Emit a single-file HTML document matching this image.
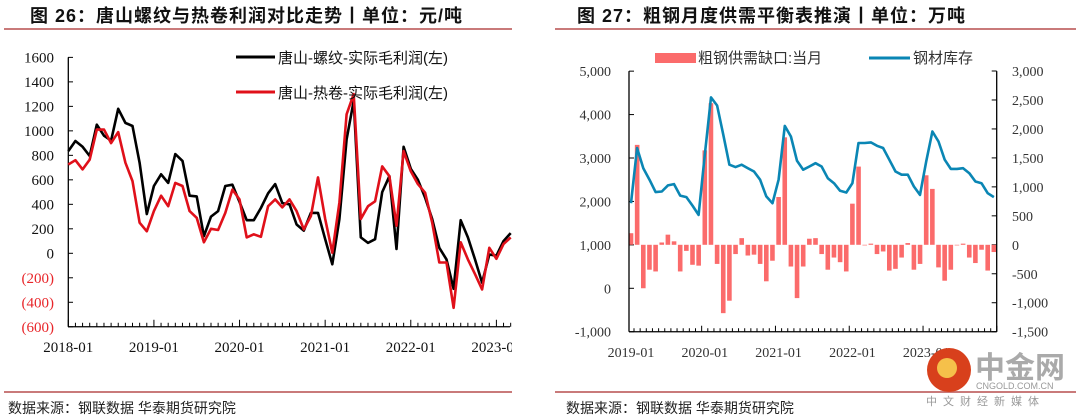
<!DOCTYPE html>
<html><head><meta charset="utf-8"><style>
html,body{margin:0;padding:0;background:#fff;width:1080px;height:419px;overflow:hidden}
svg{display:block}
text{font-family:"Liberation Serif","Noto Serif CJK SC",serif}
.cn{font-family:"Liberation Sans","Noto Sans CJK SC",sans-serif}
</style></head><body>
<svg id="s" width="1080" height="419" xmlns="http://www.w3.org/2000/svg">
<defs><clipPath id="lc"><rect x="0" y="0" width="512" height="419"/></clipPath></defs>
<text class="cn" x="30" y="22" font-size="18" letter-spacing="1" font-weight="bold" fill="#111">图 26：唐山螺纹与热卷利润对比走势丨单位：元/吨</text>
<text class="cn" x="577" y="22" font-size="18" letter-spacing="1" font-weight="bold" fill="#111">图 27：粗钢月度供需平衡表推演丨单位：万吨</text>
<line x1="4" y1="29" x2="512" y2="29" stroke="#c97a7a" stroke-width="2"/>
<line x1="555" y1="29" x2="1076" y2="29" stroke="#c97a7a" stroke-width="2"/>
<line x1="4" y1="392" x2="512" y2="392" stroke="#c97a7a" stroke-width="2"/>
<line x1="555" y1="392" x2="1076" y2="392" stroke="#c97a7a" stroke-width="2"/>
<text class="cn" x="8" y="413" font-size="14" fill="#222">数据来源：钢联数据  华泰期货研究院</text>
<text class="cn" x="566" y="413" font-size="14" fill="#222">数据来源：钢联数据  华泰期货研究院</text>
<g id="L" clip-path="url(#lc)"></g><g id="R"></g>
<g>
<circle cx="949" cy="370" r="22" fill="#d8401c"/>
<circle cx="947" cy="368" r="10" fill="#f5c04a"/>
<text class="cn" x="975" y="378" font-size="30" font-weight="bold" fill="#aaa">中金网</text>
<text class="cn" x="976" y="389" font-size="9" fill="#999">CNGOLD.COM.CN</text>
<text class="cn" x="926" y="405" font-size="11" fill="#999" letter-spacing="6">中文财经新媒体</text>
</g>
</svg>
<script>
const NS="http://www.w3.org/2000/svg";
// ---- left chart data
const leftTicks=[1600,1400,1200,1000,800,600,400,200,0,-200,-400,-600];
const leftYears=["2018-01","2019-01","2020-01","2021-01","2022-01","2023-01"];
const rebar=[835,917,870,795,1050,960,920,1180,1065,1040,740,320,550,645,575,810,755,470,465,140,300,345,550,560,420,270,270,370,490,565,410,400,235,185,330,330,115,-90,280,930,1245,130,85,115,500,630,35,870,690,600,455,280,45,-50,-290,270,130,-50,-240,-10,-20,100,165];
const hrc=[725,760,685,765,1010,1010,900,990,740,590,250,180,345,470,385,575,550,345,290,90,200,190,330,520,440,130,155,135,385,440,375,440,345,195,305,620,280,5,415,1135,1300,280,385,425,710,630,225,835,670,565,495,250,-75,-75,-445,90,-50,-170,-295,45,-45,75,130];
// ---- right chart data
const rLeftTicks=[5000,4000,3000,2000,1000,0,-1000];
const rRightTicks=[3000,2500,2000,1500,1000,500,0,-500,-1000,-1500];
const rYears=["2019-01","2020-01","2021-01","2022-01","2023-01"];
const gap=[200,1725,-750,-430,-460,40,175,60,-460,-105,-345,-360,1630,2445,-330,-1180,-965,-160,115,-185,-170,-330,-630,-275,825,1855,-375,-920,-375,105,115,-160,-430,-220,-300,-460,710,1350,-10,20,-160,-115,-445,-415,-220,30,-430,-330,1200,965,-390,-620,-430,-10,20,-220,-315,-85,-445,-125];
const stock=[1960,3230,2765,2500,2215,2230,2370,2400,2135,2100,1905,1690,3075,4395,4210,3535,2845,2790,2845,2765,2690,2500,2115,1960,2500,3740,3495,2935,2730,2805,2880,2805,2535,2420,2245,2205,2420,3345,3345,3360,3280,3230,2960,2690,2615,2615,2345,2150,2920,3610,3380,2960,2750,2750,2765,2650,2460,2420,2190,2100];

function mk(p,tag,a,txt){const e=document.createElementNS(NS,tag);for(const k in a)e.setAttribute(k,a[k]);if(txt!==undefined)e.textContent=txt;p.appendChild(e);return e;}
const fmt=v=>v<0?"("+Math.abs(v)+")":String(v);
const fmtc=v=>(v<0?"-":"")+Math.abs(v).toLocaleString("en-US");

// Left chart
const L=document.getElementById("L");
const lx=i=>68.3+i*7.135, ly=v=>253.3-v*0.12245;
for(const t of leftTicks){
  const e=mk(L,"text",{x:54,y:ly(t)+5,"font-size":15,"text-anchor":"end",fill:t<0?"#e8262a":"#111"},fmt(t));
  
  
  mk(L,"line",{x1:68,x2:73,y1:ly(t),y2:ly(t),stroke:"#000"});
}
let a=mk(L,"line",{x1:68.3,x2:68.3,y1:ly(1600),y2:ly(-600),stroke:"#000","stroke-width":1.3});

a=mk(L,"line",{x1:68,x2:510,y1:ly(-600),y2:ly(-600),stroke:"#000","stroke-width":1.3});

for(let i=0;i<=62;i++){mk(L,"line",{x1:lx(i),x2:lx(i),y1:ly(-600),y2:ly(-600)-(i%12==0?7:4),stroke:"#000"});}
leftYears.forEach((y,k)=>{const e=mk(L,"text",{x:lx(k*12),y:352,"font-size":15,"text-anchor":"middle",fill:"#111"},y);
  });
function line(p,arr,fx,fy,col,w,name){const d=arr.map((v,i)=>(i?"L":"M")+fx(i).toFixed(1)+" "+fy(v).toFixed(1)).join("");
  const e=mk(p,"path",{d:d,fill:"none",stroke:col,"stroke-width":w,"stroke-linejoin":"round"});
  }
line(L,rebar,lx,ly,"#000",2.6,"rebar-profit-line");
line(L,hrc,lx,ly,"#e0101a",2.6,"hrc-profit-line");
let g=mk(L,"g",{});
mk(g,"line",{x1:236,x2:275,y1:57,y2:57,stroke:"#000","stroke-width":3});
mk(g,"text",{x:278,y:63,"font-size":15,fill:"#111",class:"cn"},"唐山-螺纹-实际毛利润(左)");
g=mk(L,"g",{});
mk(g,"line",{x1:236,x2:275,y1:92,y2:92,stroke:"#e0101a","stroke-width":3});
mk(g,"text",{x:278,y:98,"font-size":15,fill:"#111",class:"cn"},"唐山-热卷-实际毛利润(左)");

// Right chart
const R=document.getElementById("R");
const rx=i=>631+i*6.15, ryL=v=>288.3-v*0.04343, ryR=v=>244.8-v*0.05793;
const X0=629,X1=996.7;
for(const t of rLeftTicks){const e=mk(R,"text",{x:611,y:ryL(t)+5,"font-size":14,"text-anchor":"end",fill:"#333"},fmtc(t));
  
  mk(R,"line",{x1:X0,x2:X0+5,y1:ryL(t),y2:ryL(t),stroke:"#000"});}
for(const t of rRightTicks){const e=mk(R,"text",{x:1012,y:ryR(t)+5,"font-size":14,fill:"#333"},fmtc(t));
  
  mk(R,"line",{x1:X1-5,x2:X1,y1:ryR(t),y2:ryR(t),stroke:"#000"});}
gap.forEach((v,i)=>{const y0=ryR(0),y1=ryR(v);const e=mk(R,"rect",{x:rx(i)-2.3,y:Math.min(y0,y1),width:4.6,height:Math.abs(y1-y0),fill:"#fb6b6b"});
  });
a=mk(R,"line",{x1:X0,x2:X0,y1:ryL(5000),y2:ryL(-1000),stroke:"#000","stroke-width":1.3});

a=mk(R,"line",{x1:X1,x2:X1,y1:ryL(5000),y2:ryL(-1000),stroke:"#000","stroke-width":1.3});

a=mk(R,"line",{x1:X0,x2:X1,y1:ryL(-1000),y2:ryL(-1000),stroke:"#000","stroke-width":1.3});

for(let i=0;i<60;i++){mk(R,"line",{x1:rx(i)+3,x2:rx(i)+3,y1:ryL(-1000),y2:ryL(-1000)-(i%12==11?6:3.5),stroke:"#000"});}
rYears.forEach((y,k)=>{const e=mk(R,"text",{x:rx(k*12),y:357,"font-size":14,"text-anchor":"middle",fill:"#333"},y);
  });
line(R,stock,rx,ryL,"#0a86b4",2.6,"steel-inventory-line");
g=mk(R,"g",{});
mk(g,"rect",{x:655,y:53,width:41,height:10,fill:"#fb6b6b"});
mk(g,"text",{x:698,y:63,"font-size":15,fill:"#333",class:"cn"},"粗钢供需缺口:当月");
g=mk(R,"g",{});
mk(g,"line",{x1:869,x2:910,y1:58,y2:58,stroke:"#0a86b4","stroke-width":3});
mk(g,"text",{x:913,y:63,"font-size":15,fill:"#333",class:"cn"},"钢材库存");
</script>
</body></html>
